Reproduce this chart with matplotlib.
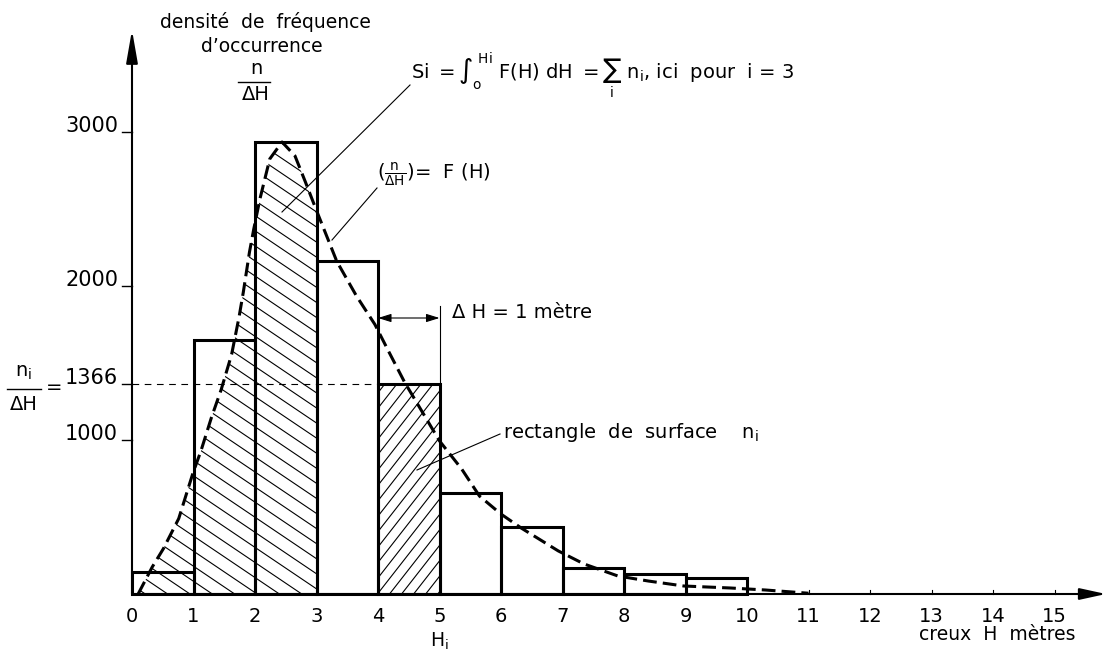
import numpy as np
import matplotlib.pyplot as plt
from matplotlib.patches import Polygon, Rectangle
from matplotlib.collections import LineCollection

plt.rcParams['font.family'] = 'DejaVu Sans'
plt.rcParams['mathtext.fontset'] = 'dejavusans'

# histogram: density n/dH per 1 m class
edges = [0, 1, 2, 3, 4, 5, 6, 7, 8, 9, 10]
dens = [140, 1650, 2935, 2160, 1366, 656, 435, 169, 130, 104]

# smoothed density F(H)
H = [0.1, 0.33, 0.51, 0.76, 0.99, 1.12, 1.29, 1.45, 1.62, 1.74, 1.81, 1.91, 1.98,
     2.08, 2.24, 2.44, 2.65, 2.82, 3.0, 3.33, 3.65, 3.95, 4.18, 4.43, 5.0, 5.36,
     5.65, 6.0, 6.33, 6.93, 7.35, 7.9, 8.4, 8.97, 9.73, 10.3, 11.0]
F = [0, 176, 294, 490, 784, 928, 1144, 1327, 1556, 1797, 1960, 2220, 2370,
     2565, 2825, 2935, 2845, 2675, 2490, 2160, 1935, 1750, 1570, 1377, 994, 812,
     636, 519, 428, 280, 195, 117, 84, 52, 39, 26, 5]

xticks = list(range(0, 16))
yticks = [1000, 2000, 3000]
n_i = 1366
i_sel = 3

# pixel <-> data mapping of the sheet
X0, SX = 132, 61.5
Y0, SY = 594, 0.154
W, Hpx = 1108, 650

def dx(px):
    return (px - X0) / SX

def dy(py):
    return (Y0 - py) / SY

fig = plt.figure(figsize=(W / 100, Hpx / 100), dpi=100)
ax = fig.add_axes([0, 0, 1, 1])
ax.set_xlim(dx(0), dx(W))
ax.set_ylim(dy(Hpx), dy(0))
ax.axis('off')


def hatch(clip, angle, spacing, box):
    # parallel lines in pixel space, clipped to a patch
    a = np.radians(angle)
    d = np.array([np.cos(a), np.sin(a)])
    nrm = np.array([-np.sin(a), np.cos(a)])
    x0, y0, x1, y1 = box
    c = np.array([(x0 + x1) / 2, (y0 + y1) / 2])
    L = np.hypot(x1 - x0, y1 - y0)
    segs = []
    for k in np.arange(-L, L, spacing):
        p = c + k * nrm
        a1, a2 = p - L * d, p + L * d
        segs.append([(dx(a1[0]), dy(a1[1])), (dx(a2[0]), dy(a2[1]))])
    lc = LineCollection(segs, colors='k', linewidths=0.8)
    ax.add_collection(lc)
    lc.set_clip_path(clip)


# area under F(H) up to H_i = 3
k3 = H.index(3.0)
verts = [(H[0], 0)] + list(zip(H[:k3 + 1], F[:k3 + 1])) + [(H[k3], 0)]
under = Polygon(verts, closed=True, fill=False, edgecolor='none')
ax.add_patch(under)
hatch(under, 34, 12.5, (120, 120, 330, 600))

# rectangle of surface n_i
rect = Rectangle((4, 0), 1, n_i, fill=False, edgecolor='none')
ax.add_patch(rect)
hatch(rect, -52, 9.5, (370, 370, 450, 600))

ax.bar(edges[:-1], dens, width=1, align='edge', fill=False,
       edgecolor='k', linewidth=2.2, zorder=3)
ax.plot(H, F, color='k', lw=2.2, dashes=(4.5, 2), zorder=4)

# axes with arrows
ax.annotate('', xy=(dx(1106), 0), xytext=(0, 0),
            arrowprops=dict(arrowstyle='-|>,head_length=1.6,head_width=0.35',
                            lw=1.5, color='k', shrinkA=0, shrinkB=0))
ax.annotate('', xy=(0, dy(30)), xytext=(0, 0),
            arrowprops=dict(arrowstyle='-|>,head_length=2.0,head_width=0.35',
                            lw=1.5, color='k', shrinkA=0, shrinkB=0))

for t in xticks:
    ax.plot([t, t], [0, dy(Y0 - 4)], color='k', lw=0.8)
    ax.text(t, dy(617), str(t), ha='center', va='center', fontsize=14)

for v in yticks + [n_i]:
    ax.plot([dx(X0 - 10), 0], [v, v], color='k', lw=1.0)
    ax.text(dx(118), v, str(v), ha='right', va='baseline', fontsize=15)

# n_i / dH = 1366 on the left
ax.plot([0, 4], [n_i, n_i], color='k', lw=0.8, dashes=(6, 5))
ax.text(dx(24), dy(372), r'n$_\mathrm{i}$', ha='center', va='center', fontsize=14)
ax.plot([dx(7), dx(41)], [dy(389), dy(389)], color='k', lw=1.0)
ax.text(dx(24), dy(404), 'ΔH', ha='center', va='center', fontsize=14)
ax.text(dx(54), dy(388), '=', ha='center', va='center', fontsize=14)

# y label
ax.text(dx(265), dy(22), 'densité  de  fréquence', ha='center', va='center', fontsize=13.5)
ax.text(dx(262), dy(46), 'd\u2019occurrence', ha='center', va='center', fontsize=13.5)
ax.text(dx(256), dy(69), 'n', ha='center', va='center', fontsize=14)
ax.plot([dx(238), dx(270)], [dy(82), dy(82)], color='k', lw=1.0)
ax.text(dx(256), dy(95), 'ΔH', ha='center', va='center', fontsize=14)

# x labels
ax.text(5, dy(641), r'H$_\mathrm{i}$', ha='center', va='center', fontsize=13.5)
ax.text(dx(1075), dy(635), 'creux  H  mètres', ha='right', va='center', fontsize=13.5)

# integral annotation
ax.text(dx(411), dy(76),
        r'Si $=\int_\mathrm{o}^{\,\mathrm{Hi}}$ F(H) dH $=\sum_\mathrm{i}$ n$_\mathrm{i}$, ici  pour  i = %d' % i_sel,
        ha='left', va='center', fontsize=14)
ax.plot([dx(410), dx(282)], [dy(85), dy(212)], color='k', lw=0.8)

# F(H) annotation
ax.text(dx(377), dy(175), r'($\frac{\mathrm{n}}{\Delta\mathrm{H}}$)=  F (H)',
        ha='left', va='center', fontsize=14)
ax.plot([dx(377), dx(332)], [dy(188), dy(240)], color='k', lw=0.8)

# class width dH
ax.annotate('', xy=(4, dy(318)), xytext=(5, dy(318)),
            arrowprops=dict(arrowstyle='<|-|>,head_length=0.8,head_width=0.25',
                            lw=0.8, color='k', shrinkA=0, shrinkB=0))
ax.plot([5, 5], [n_i, dy(306)], color='k', lw=0.8)
ax.text(dx(452), dy(312), 'Δ H = 1 mètre', ha='left', va='center', fontsize=14)

# rectangle annotation
ax.text(dx(503), dy(432), r'rectangle  de  surface    n$_\mathrm{i}$',
        ha='left', va='center', fontsize=14)
ax.plot([dx(500), dx(417)], [dy(434), dy(470)], color='k', lw=0.8)

fig.savefig('out.png', dpi=100)
